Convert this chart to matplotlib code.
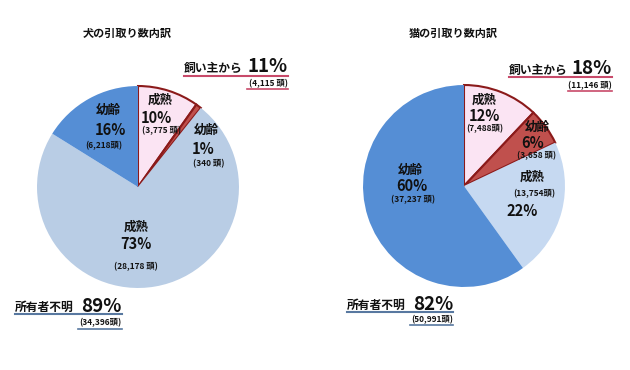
import matplotlib
matplotlib.use("Agg")
from matplotlib import pyplot as plt
from matplotlib.lines import Line2D

plt.rcParams['font.family'] = ['Noto Sans CJK JP', 'DejaVu Sans']

# 犬
dog_labels = ['成熟', '幼齢', '成熟', '幼齢']
dog_counts = [3775, 340, 28178, 6218]
# 猫
cat_labels = ['成熟', '幼齢', '成熟', '幼齢']
cat_counts = [7488, 3658, 13754, 37237]

dog_colors = ['#FBE4F3', '#C0504D', '#B9CDE5', '#558ED5']
cat_colors = ['#FBE4F3', '#C0504D', '#C6D9F1', '#558ED5']

W, H = 630, 370
fig = plt.figure(figsize=(6.3, 3.7), dpi=100)


def px(x, y):
    return x / W, 1 - y / H


def draw_pie(cx, cy, r, counts, colors):
    ax = fig.add_axes([(cx - r) / W, (H - cy - r) / H, 2 * r / W, 2 * r / H])
    wedges, _ = ax.pie(counts, colors=colors, startangle=90, counterclock=False,
                       radius=1, wedgeprops=dict(linewidth=0))
    for w in wedges[:2]:
        w.set_edgecolor('#8B1A1A')
        w.set_linewidth(1.5)
    ax.set_xlim(-1.02, 1.02)
    ax.set_ylim(-1.02, 1.02)
    return ax


def txt(x, y, s, size, ha='center', bold=True):
    fig.text(*px(x, y), s, fontsize=size, ha=ha, va='center',
             fontweight='bold' if bold else 'normal', color='#111111')


def uline(x0, x1, y, color, lw=1.5):
    fig.add_artist(Line2D([x0 / W, x1 / W], [1 - y / H, 1 - y / H],
                          color=color, lw=lw, transform=fig.transFigure))


def pct(v, total):
    return f'{round(v / total * 100)}%'


draw_pie(138, 187, 103, dog_counts, dog_colors)
draw_pie(464, 186, 103, cat_counts, cat_colors)

dt = sum(dog_counts)
ct = sum(cat_counts)

LB, PC, CN = 9, 10.5, 6

# titles
txt(127, 33, '犬の引取り数内訳', 8)
txt(453, 33, '猫の引取り数内訳', 8)

# dog inner labels
txt(160, 100, dog_labels[0], LB)
txt(156, 118, pct(dog_counts[0], dt), PC)
txt(162, 131, f'({dog_counts[0]:,} 頭)', CN)
txt(206, 130, dog_labels[1], LB)
txt(203, 149, f'{max(1, round(dog_counts[1] / dt * 100))}%', PC)
txt(209, 164, f'({dog_counts[1]:,} 頭)', CN)
txt(136, 227, dog_labels[2], LB)
txt(136, 244, pct(dog_counts[2], dt), PC)
txt(136, 267, f'({dog_counts[2]:,} 頭)', CN)
txt(108, 110, dog_labels[3], LB)
txt(110, 130, pct(dog_counts[3], dt), PC)
txt(104, 146, f'({dog_counts[3]:,}頭)', CN)

# cat inner labels
txt(484, 100, cat_labels[0], LB)
txt(484, 116, pct(cat_counts[0], ct), PC)
txt(485, 129, f'({cat_counts[0]:,}頭)', CN)
txt(537, 127, cat_labels[1], LB)
txt(533, 143, pct(cat_counts[1], ct), PC)
txt(537, 156, f'({cat_counts[1]:,} 頭)', CN)
txt(532, 177, cat_labels[2], LB)
txt(534, 194, f'({cat_counts[2]:,}頭)', CN)
txt(522, 211, pct(cat_counts[2], ct), PC)
txt(410, 170, cat_labels[3], LB)
txt(412, 186, pct(cat_counts[3], ct), PC)
txt(413, 200, f'({cat_counts[3]:,} 頭)', CN)

# group labels
red_line = '#C84A6A'
blue_line = '#5878A0'

dog_own = dog_counts[0] + dog_counts[1]
dog_unk = dog_counts[2] + dog_counts[3]
cat_own = cat_counts[0] + cat_counts[1]
cat_unk = cat_counts[2] + cat_counts[3]

GL, GP = 8.5, 13.5

txt(184, 68, '飼い主から', GL, ha='left')
txt(288, 67, pct(dog_own, dt), GP, ha='right')
uline(184, 288, 76, red_line)
txt(288, 84, f'({dog_own:,} 頭)', CN, ha='right')
uline(247, 288, 89, red_line, 1.2)

txt(15, 307, '所有者不明', GL, ha='left')
txt(122, 306, pct(dog_unk, dt), GP, ha='right')
uline(15, 122, 314, blue_line)
txt(122, 323, f'({dog_unk:,}頭)', CN, ha='right')
uline(78, 122, 329, blue_line, 1.2)

txt(509, 70, '飼い主から', GL, ha='left')
txt(612, 69, pct(cat_own, ct), GP, ha='right')
uline(509, 612, 77, red_line)
txt(612, 86, f'({cat_own:,} 頭)', CN, ha='right')
uline(568, 612, 91, red_line, 1.2)

txt(347, 305, '所有者不明', GL, ha='left')
txt(453, 304, pct(cat_unk, ct), GP, ha='right')
uline(347, 453, 312, blue_line)
txt(453, 320, f'({cat_unk:,}頭)', CN, ha='right')
uline(410, 453, 325, blue_line, 1.2)

fig.savefig('out.png', dpi=100)
